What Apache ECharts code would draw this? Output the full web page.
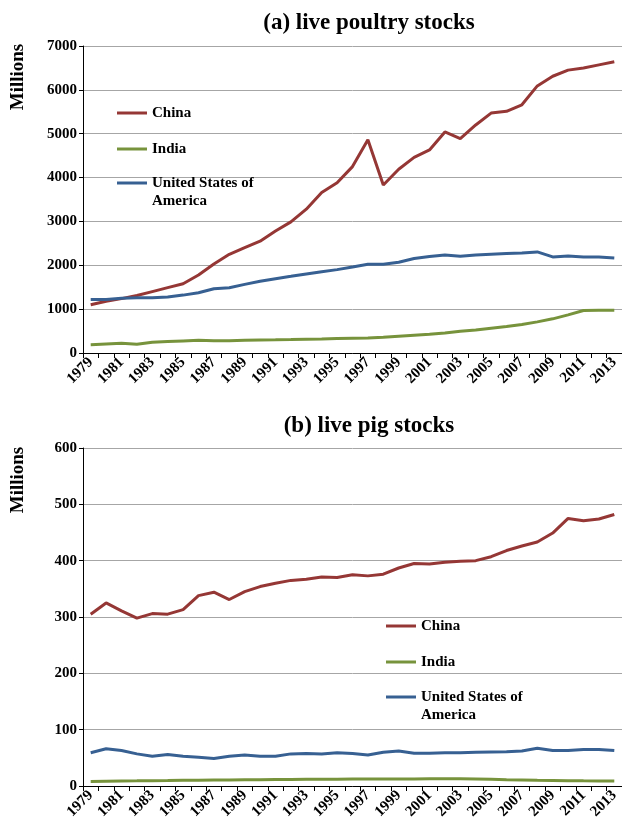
<!DOCTYPE html>
<html>
<head>
<meta charset="utf-8">
<script src="https://cdn.jsdelivr.net/npm/echarts@6/dist/echarts.min.js"></script>
<style>
html,body{margin:0;padding:0;background:#fff;}
#c{width:622px;height:830px;}
</style>
</head>
<body>
<div id="c"></div>
<script>
const years = ['1979','1980','1981','1982','1983','1984','1985','1986','1987','1988','1989','1990','1991','1992','1993','1994','1995','1996','1997','1998','1999','2000','2001','2002','2003','2004','2005','2006','2007','2008','2009','2010','2011','2012','2013'];
const seriesNames = ['China','India','United States of America'];

const poultryChina = [1100,1180,1240,1310,1400,1490,1580,1780,2030,2250,2400,2550,2780,2990,3280,3660,3880,4250,4860,3830,4190,4460,4630,5040,4890,5200,5470,5510,5660,6090,6310,6450,6500,6570,6640];
const poultryIndia = [190,205,220,200,245,260,275,290,278,282,290,297,300,306,313,320,328,336,343,359,382,405,427,458,496,527,565,603,649,710,779,870,969,975,977];
const poultryUSA = [1220,1222,1250,1258,1260,1275,1320,1374,1466,1489,1565,1634,1695,1748,1802,1855,1901,1962,2023,2023,2069,2153,2198,2237,2206,2237,2252,2267,2282,2305,2191,2214,2191,2191,2168];

const pigChina = [305,325,311,298,306,305,313,338,344,331,345,354,360,365,367,371,370,375,373,376,387,395,394,397,399,400,407,418,426,433,449,475,471,474,482];
const pigIndia = [8,8.5,9,9.2,9.5,9.7,10,10.2,10.5,10.8,11,11.2,11.4,11.6,11.8,12,12.2,12.3,12.4,12.5,12.5,12.6,12.7,12.7,12.7,12.3,11.8,11.2,10.8,10.3,9.9,9.5,9.2,9,8.8];
const pigUSA = [59,66,63,57,53,56,53,51,49,53,55,53,53,57,57.5,57,59,57.5,55,60,62,58,58,59,59,60,60.5,61,62,67,63,63,65,65,63];

const titles = ['(a) live poultry stocks','(b) live pig stocks'];
const yAxisName = 'Millions';

const colors = ['#953735','#77933C','#376092'];
const FONT = "'Liberation Serif','Times New Roman',serif";

const chart = echarts.init(document.getElementById('c'), null, {renderer:'canvas'});

function legendLabel(name){
  // leading empty line keeps the first text line level with the legend line
  return name === 'United States of America' ? '\nUnited States of\nAmerica' : name;
}

function makeLegend(name, left, top){
  return {
    data:[name],
    orient:'vertical',
    left:left, top:top,
    padding:0,
    itemWidth:30, itemHeight:14,
    icon:'path://M0,0L30,0L30,3L0,3Z',
    selectedMode:false,
    formatter: legendLabel,
    textStyle:{
      fontFamily:FONT, fontWeight:'bold', fontSize:15, color:'#000',
      lineHeight:18
    }
  };
}

const xAxisBase = {
  type:'category',
  data:years,
  boundaryGap:true,
  axisLine:{lineStyle:{color:'#000',width:1}},
  axisTick:{show:true,interval:0,length:5,lineStyle:{color:'#000'}},
  axisLabel:{interval:1,rotate:45,margin:7,fontFamily:FONT,fontWeight:'bold',fontSize:15,color:'#000'},
  splitLine:{show:false}
};
const yAxisBase = {
  type:'value',
  axisLine:{show:true,lineStyle:{color:'#000',width:1}},
  axisTick:{show:true,length:4,lineStyle:{color:'#000'}},
  axisLabel:{margin:6,fontFamily:FONT,fontWeight:'bold',fontSize:15,color:'#000',formatter:function(v){return String(v);}},
  splitLine:{show:true,lineStyle:{color:'#a6a6a6',width:1}}
};

function line(name, data, idx, axisIdx){
  return {
    name:name, type:'line', data:data,
    xAxisIndex:axisIdx, yAxisIndex:axisIdx,
    showSymbol:false, symbol:'none', smooth:false,
    lineStyle:{width:3,color:colors[idx]},
    itemStyle:{color:colors[idx]},
    animation:false
  };
}

chart.setOption({
  animation:false,
  title:[
    {text:titles[0], left:364, top:7, textAlign:'center', textStyle:{fontFamily:FONT,fontWeight:'bold',fontSize:23,color:'#000'}},
    {text:titles[1], left:364, top:410, textAlign:'center', textStyle:{fontFamily:FONT,fontWeight:'bold',fontSize:23,color:'#000'}}
  ],
  legend:[
    makeLegend(seriesNames[0],117,104),
    makeLegend(seriesNames[1],117,140),
    makeLegend(seriesNames[2],117,156),
    makeLegend(seriesNames[0],386,617),
    makeLegend(seriesNames[1],386,653),
    makeLegend(seriesNames[2],386,670)
  ],
  grid:[
    {left:83, right:-1, top:46, height:307},
    {left:83, right:-1, top:448, height:338}
  ],
  xAxis:[
    Object.assign({gridIndex:0}, xAxisBase),
    Object.assign({gridIndex:1}, xAxisBase)
  ],
  yAxis:[
    Object.assign({gridIndex:0,min:0,max:7000,interval:1000}, yAxisBase),
    Object.assign({gridIndex:1,min:0,max:600,interval:100}, yAxisBase)
  ],
  graphic:[
    {type:'text', x:18, y:77, rotation:Math.PI/2, style:{text:yAxisName, fontFamily:FONT, fontWeight:'bold', fontSize:19, fill:'#000', align:'center', verticalAlign:'middle'}},
    {type:'text', x:18, y:480, rotation:Math.PI/2, style:{text:yAxisName, fontFamily:FONT, fontWeight:'bold', fontSize:19, fill:'#000', align:'center', verticalAlign:'middle'}}
  ],
  series:[
    line(seriesNames[0], poultryChina, 0, 0),
    line(seriesNames[1], poultryIndia, 1, 0),
    line(seriesNames[2], poultryUSA, 2, 0),
    line(seriesNames[0], pigChina, 0, 1),
    line(seriesNames[1], pigIndia, 1, 1),
    line(seriesNames[2], pigUSA, 2, 1)
  ]
});
</script>
</body>
</html>
